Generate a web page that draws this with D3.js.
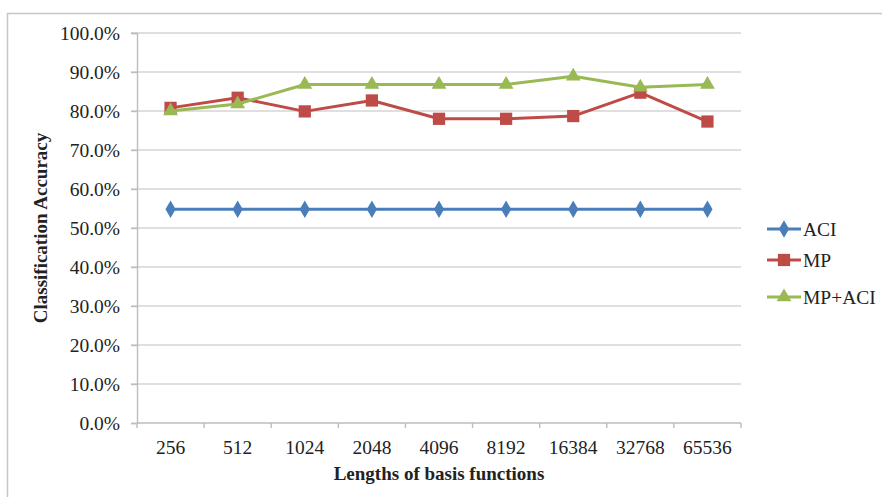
<!DOCTYPE html>
<html>
<head>
<meta charset="utf-8">
<script src="https://cdn.jsdelivr.net/npm/d3@7"></script>
<style>
  html, body { margin: 0; padding: 0; background: #fff; }
  svg text { font-family: "Liberation Serif", "Times New Roman", serif !important; fill: #222; }
</style>
</head>
<body>
<svg id="chart" width="882" height="497"></svg>
<script>
// Lengths of basis functions (x categories)
const categories = ["256", "512", "1024", "2048", "4096", "8192", "16384", "32768", "65536"];
// Classification accuracy (%) per method
const aci   = [54.8, 54.8, 54.8, 54.8, 54.8, 54.8, 54.8, 54.8, 54.8];
const mp    = [80.8, 83.4, 79.9, 82.7, 78.0, 78.0, 78.7, 84.7, 77.3];
const mpAci = [80.0, 81.8, 86.8, 86.8, 86.8, 86.8, 88.9, 86.1, 86.8];
const yTicks = [0, 10, 20, 30, 40, 50, 60, 70, 80, 90, 100];

const series = [
  { name: "ACI",    values: aci,   color: "#4a7ebb", shape: d3.symbolDiamond,  size: 90 },
  { name: "MP",     values: mp,    color: "#be4b48", shape: d3.symbolSquare,   size: 150 },
  { name: "MP+ACI", values: mpAci, color: "#98b954", shape: d3.symbolTriangle, size: 95 }
];

const svg = d3.select("#chart");
const plot = { left: 137, right: 741, top: 33, bottom: 423 };

// Outer frame (only left and top edges fall inside the canvas)
svg.append("path")
  .attr("d", "M7.5,497 L7.5,13.5 L882,13.5")
  .attr("fill", "none").attr("stroke", "#c6c6c6").attr("stroke-width", 1.5);

const x = d3.scaleBand().domain(categories).range([plot.left, plot.right]);
const y = d3.scaleLinear().domain([0, 100]).range([plot.bottom, plot.top]);

// Horizontal gridlines
svg.append("g").selectAll("line").data(yTicks.filter(t => t > 0)).join("line")
  .attr("x1", plot.left - 6).attr("x2", plot.right)
  .attr("y1", d => y(d)).attr("y2", d => y(d))
  .attr("stroke", "#d4d4d4").attr("stroke-width", 1.4);

// Y axis
const yAxis = svg.append("g").attr("transform", `translate(${plot.left},0)`)
  .call(d3.axisLeft(y).tickValues(yTicks).tickFormat(d => d.toFixed(1) + "%").tickSize(6).tickPadding(11))
  .attr("font-family", null);
yAxis.select(".domain").attr("stroke", "#bdbdbd").attr("stroke-width", 1.4);
yAxis.selectAll(".tick line").attr("stroke", "#bdbdbd").attr("stroke-width", 1.4);
yAxis.selectAll("text").style("font-size", "19.5px").attr("fill", "#222");

// X axis with ticks at band boundaries
const xAxisG = svg.append("g").attr("transform", `translate(0,${plot.bottom})`);
xAxisG.append("line").attr("x1", plot.left).attr("x2", plot.right)
  .attr("stroke", "#bdbdbd").attr("stroke-width", 1.4);
const bounds = categories.map(c => x(c)).concat([x(categories[categories.length - 1]) + x.bandwidth()]);
xAxisG.selectAll("line.tk").data(bounds).join("line").attr("class", "tk")
  .attr("x1", d => d).attr("x2", d => d).attr("y1", 0).attr("y2", 5)
  .attr("stroke", "#bdbdbd").attr("stroke-width", 1.4);
xAxisG.selectAll("text").data(categories).join("text")
  .attr("x", d => x(d) + x.bandwidth() / 2).attr("y", 31)
  .attr("text-anchor", "middle").style("font-size", "19.5px").text(d => d);

// Axis titles
svg.append("text").attr("x", (plot.left + plot.right) / 2).attr("y", 480)
  .attr("text-anchor", "middle").style("font-size", "19px").style("font-weight", "bold")
  .attr("fill", "#111").text("Lengths of basis functions");
svg.append("text").attr("transform", `translate(47,${(plot.top + plot.bottom) / 2}) rotate(-90)`)
  .attr("text-anchor", "middle").style("font-size", "19px").style("font-weight", "bold")
  .attr("fill", "#111").text("Classification Accuracy");

// Lines and markers
const line = d3.line().x((d, i) => x(categories[i]) + x.bandwidth() / 2).y(d => y(d));
series.forEach(s => {
  const g = svg.append("g");
  g.append("path").datum(s.values).attr("d", line)
    .attr("fill", "none").attr("stroke", s.color).attr("stroke-width", 3).attr("stroke-linejoin", "round");
  g.selectAll("path.m").data(s.values).join("path").attr("class", "m")
    .attr("d", d3.symbol().type(s.shape).size(s.size))
    .attr("transform", (d, i) => `translate(${x(categories[i]) + x.bandwidth() / 2},${y(d)})`)
    .attr("fill", s.color);
});

// Legend
const legend = svg.append("g");
const legendY = [229, 260, 297];
series.forEach((s, i) => {
  const g = legend.append("g").attr("transform", `translate(767,${legendY[i]})`);
  g.append("line").attr("x1", 0).attr("x2", 34).attr("stroke", s.color).attr("stroke-width", 3);
  g.append("path").attr("d", d3.symbol().type(s.shape).size(s.size)).attr("transform", "translate(17,0)").attr("fill", s.color);
  g.append("text").attr("x", 36).attr("y", 7).style("font-size", "19.5px").text(s.name);
});
</script>
</body>
</html>
